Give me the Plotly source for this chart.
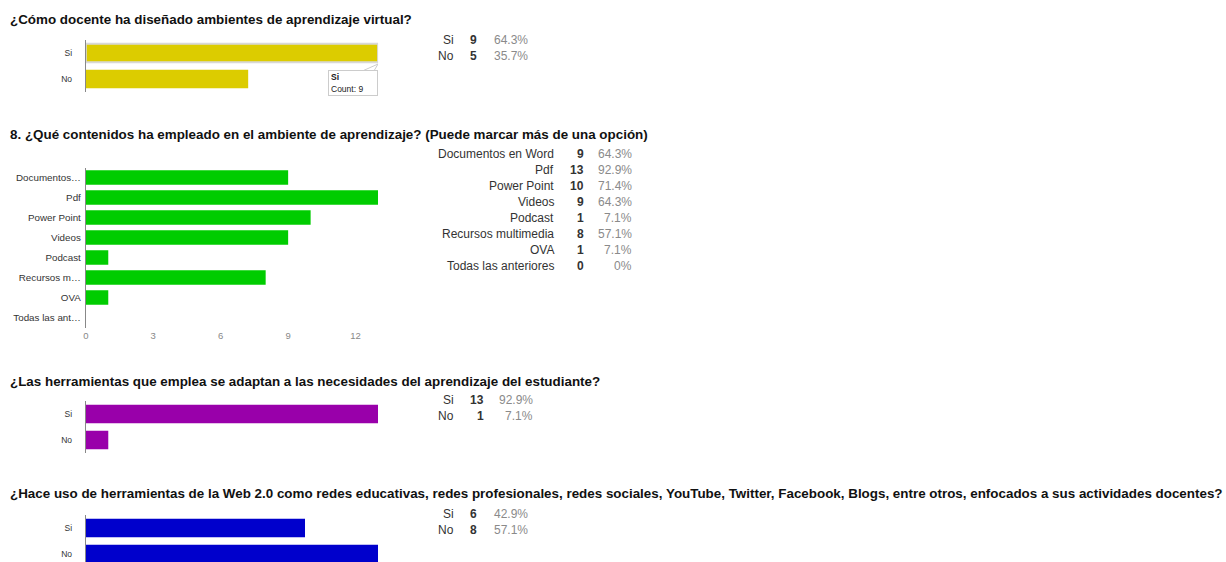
import plotly.graph_objects as go

W, H = 1226, 562

# ---------------- data ----------------
q1_title = "¿Cómo docente ha diseñado ambientes de aprendizaje virtual?"
q1_cats = ["Si", "No"]
q1_counts = [9, 5]
q1_pcts = ["64.3%", "35.7%"]

q2_title = "8. ¿Qué contenidos ha empleado en el ambiente de aprendizaje? (Puede marcar más de una opción)"
q2_cats = ["Documentos en Word", "Pdf", "Power Point", "Videos", "Podcast",
           "Recursos multimedia", "OVA", "Todas las anteriores"]
q2_ticklabels = ["Documentos…", "Pdf", "Power Point", "Videos", "Podcast",
                 "Recursos m…", "OVA", "Todas las ant…"]
q2_counts = [9, 13, 10, 9, 1, 8, 1, 0]
q2_pcts = ["64.3%", "92.9%", "71.4%", "64.3%", "7.1%", "57.1%", "7.1%", "0%"]
q2_xticks = [0, 3, 6, 9, 12]

q3_title = "¿Las herramientas que emplea se adaptan a las necesidades del aprendizaje del estudiante?"
q3_cats = ["Si", "No"]
q3_counts = [13, 1]
q3_pcts = ["92.9%", "7.1%"]

q4_title = ("¿Hace uso de herramientas de la Web 2.0 como redes educativas, redes profesionales, "
            "redes sociales, YouTube, Twitter, Facebook, Blogs, entre otros, enfocados a sus actividades docentes?")
q4_cats = ["Si", "No"]
q4_counts = [6, 8]
q4_pcts = ["42.9%", "57.1%"]

tooltip_cat = "Si"
tooltip_count = 9

# ---------------- helpers ----------------
FONT = "Liberation Sans, Arial, sans-serif"


def px(x):
    return x / W


def py(y):
    return 1 - y / H


charts = [
    dict(cats=q1_cats, ticks=q1_cats, counts=q1_counts, pcts=q1_pcts, title=q1_title,
         color="#DCCC00", title_y=20, top=40, step=26, tickfont=8.5, standoff=11,
         xticks=None, tbl_y=40, tbl_cols=(453, 476, 527), tbl_step=16, hover=tooltip_cat),
    dict(cats=q2_cats, ticks=q2_ticklabels, counts=q2_counts, pcts=q2_pcts, title=q2_title,
         color="#00CC00", title_y=134, top=167.5, step=20, tickfont=9.8, standoff=2,
         xticks=q2_xticks, tbl_y=154, tbl_cols=(553, 583, 632), tbl_step=16, hover=None),
    dict(cats=q3_cats, ticks=q3_cats, counts=q3_counts, pcts=q3_pcts, title=q3_title,
         color="#9900AA", title_y=381, top=401, step=26, tickfont=8.5, standoff=11,
         xticks=None, tbl_y=400, tbl_cols=(453, 483, 532), tbl_step=16, hover=None),
    dict(cats=q4_cats, ticks=q4_cats, counts=q4_counts, pcts=q4_pcts, title=q4_title,
         color="#0000CC", title_y=493, top=515, step=26, tickfont=8.5, standoff=11,
         xticks=None, tbl_y=514, tbl_cols=(453, 476, 527), tbl_step=16, hover=None),
]

fig = go.Figure()
annotations = []
shapes = []
layout_axes = {}

for i, c in enumerate(charts, start=1):
    xa = "x" if i == 1 else f"x{i}"
    ya = "y" if i == 1 else f"y{i}"
    n = len(c["cats"])
    top = c["top"]
    bottom = min(top + n * c["step"], H)
    yrange = [-0.5 + (bottom - top) / c["step"], -0.5]

    line_w = [2 if cat == c["hover"] else 0 for cat in c["cats"]]
    line_c = ["#d8d8d8" if cat == c["hover"] else c["color"] for cat in c["cats"]]
    fig.add_trace(go.Bar(
        x=c["counts"], y=c["cats"], orientation="h", xaxis=xa, yaxis=ya,
        marker=dict(color=c["color"], line=dict(width=line_w, color=line_c)), width=0.72,
        showlegend=False, hoverinfo="skip",
    ))

    xkey = "xaxis" if i == 1 else f"xaxis{i}"
    ykey = "yaxis" if i == 1 else f"yaxis{i}"
    xaxis = dict(domain=[px(83), px(376)], range=[0, max(c["counts"])],
                 anchor=ya, showgrid=False, zeroline=False, showline=False,
                 fixedrange=True)
    if c["xticks"] is None:
        xaxis.update(showticklabels=False, ticks="")
    else:
        xaxis.update(tickmode="array", tickvals=c["xticks"],
                     ticktext=[str(v) for v in c["xticks"]], ticks="",
                     ticklabelstandoff=1,
                     tickfont=dict(family=FONT, size=9.5, color="#888888"))
    layout_axes[xkey] = xaxis
    layout_axes[ykey] = dict(
        domain=[py(bottom), py(top)], range=yrange, anchor=xa,
        type="category", tickmode="array", tickvals=c["cats"], ticktext=c["ticks"],
        showline=True, linecolor="#888888", linewidth=1, showgrid=False,
        zeroline=False, ticks="", ticklabelstandoff=c["standoff"],
        tickfont=dict(family=FONT, size=c["tickfont"], color="#333333"),
        fixedrange=True,
    )

    # title
    annotations.append(dict(
        text=f"<b>{c['title']}</b>", xref="paper", yref="paper",
        x=px(6), y=py(c["title_y"]), xanchor="left", yanchor="middle",
        showarrow=False, borderpad=0,
        font=dict(family=FONT, size=13.4, color="#111111"),
    ))

    # summary table
    lx, cx, pcx = c["tbl_cols"]
    for r, (cat, cnt, pct) in enumerate(zip(c["cats"], c["counts"], c["pcts"])):
        yy = py(c["tbl_y"] + r * c["tbl_step"])
        annotations.append(dict(text=cat, xref="paper", yref="paper", x=px(lx), y=yy,
                                xanchor="right", yanchor="middle", showarrow=False,
                                borderpad=0,
                                font=dict(family=FONT, size=12, color="#333333")))
        annotations.append(dict(text=f"<b>{cnt}</b>", xref="paper", yref="paper", x=px(cx), y=yy,
                                xanchor="right", yanchor="middle", showarrow=False,
                                borderpad=0,
                                font=dict(family=FONT, size=12, color="#333333")))
        annotations.append(dict(text=pct, xref="paper", yref="paper", x=px(pcx), y=yy,
                                xanchor="right", yanchor="middle", showarrow=False,
                                borderpad=0,
                                font=dict(family=FONT, size=12, color="#8a8a8a")))

# tooltip on first chart
annotations.append(dict(
    text=f"<b>{tooltip_cat}</b><br>Count: {tooltip_count}", xref="x", yref="paper",
    x=tooltip_count, y=py(70), xanchor="right", yanchor="top", showarrow=False,
    align="left", valign="middle", width=44, height=20,
    bgcolor="white", bordercolor="#cccccc", borderwidth=1, borderpad=2,
    font=dict(family=FONT, size=8.5, color="#222222"),
))
# tooltip pointer (tail) toward the end of the hovered bar
t0 = tooltip_count - 0.45
t1 = tooltip_count - 0.12
shapes.append(dict(
    type="path", xref="x", yref="paper",
    path=f"M {t0},{py(70.5)} L {tooltip_count},{py(64)} L {t1},{py(70.5)} Z",
    fillcolor="white", line=dict(color="#cccccc", width=1), layer="above",
))

fig.update_layout(
    width=W, height=H, margin=dict(l=0, r=0, t=0, b=0),
    paper_bgcolor="white", plot_bgcolor="white",
    annotations=annotations, shapes=shapes, **layout_axes,
)

fig.write_html("out.html", config={"displayModeBar": False},
               post_script="document.body.style.margin='0';")
